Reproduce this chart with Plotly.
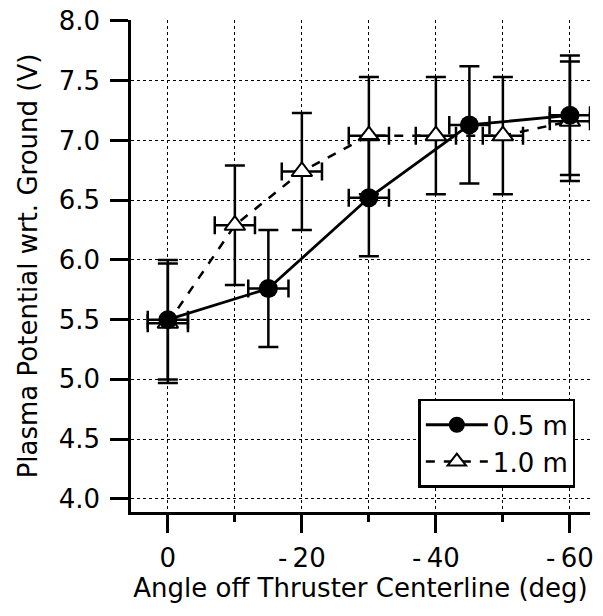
import plotly.graph_objects as go

# Data
angle_05 = [0, -15, -30, -45, -60]
pot_05 = [5.50, 5.76, 6.52, 7.13, 7.21]
pot_05_err = [0.50, 0.49, 0.49, 0.49, 0.50]
angle_05_err = [3, 3, 3, 3, 3]

angle_10 = [0, -10, -20, -30, -40, -50, -60]
pot_10 = [5.47, 6.29, 6.74, 7.04, 7.04, 7.04, 7.16]
pot_10_err = [0.50, 0.50, 0.49, 0.49, 0.49, 0.49, 0.50]
angle_10_err = [3, 3, 3, 3, 3, 3, 3]

x_tickvals = [0, -20, -40, -60]
x_ticktext = ["0", "-\u200920", "-\u200940", "-\u200960"]
y_tickvals = [4.0, 4.5, 5.0, 5.5, 6.0, 6.5, 7.0, 7.5, 8.0]

FONT = "DejaVu Sans, Liberation Sans, Arial, sans-serif"

fig = go.Figure()

fig.add_trace(go.Scatter(
    x=angle_10, y=pot_10, name="1.0 m", mode="lines+markers",
    line=dict(color="black", width=2.5, dash="dash"),
    marker=dict(symbol="triangle-up", size=18, color="white",
                line=dict(color="black", width=2)),
    error_y=dict(type="data", array=pot_10_err, color="black", thickness=2.5, width=10),
    error_x=dict(type="data", array=angle_10_err, color="black", thickness=2.5, width=9),
    legendrank=2,
))

fig.add_trace(go.Scatter(
    x=angle_05, y=pot_05, name="0.5 m", mode="lines+markers",
    line=dict(color="black", width=2.8),
    marker=dict(symbol="circle", size=19, color="black"),
    error_y=dict(type="data", array=pot_05_err, color="black", thickness=2.5, width=10),
    error_x=dict(type="data", array=angle_05_err, color="black", thickness=2.5, width=9),
    legendrank=1,
))

fig.update_layout(
    width=603, height=616,
    margin=dict(l=131, r=13, t=20, b=104),
    paper_bgcolor="white", plot_bgcolor="white",
    font=dict(family=FONT, size=26, color="black"),
    showlegend=True,
    legend=dict(
        x=0.626, y=0.23, xanchor="left", yanchor="top",
        bordercolor="black", borderwidth=2.5, bgcolor="white",
        font=dict(size=26), tracegroupgap=0, itemwidth=62,
    ),
    xaxis=dict(
        range=[5.5, -63], automargin=False,
        tickvals=x_tickvals, ticktext=x_ticktext,
        ticks="outside", ticklen=18, tickwidth=2.5, tickcolor="black",
        ticklabelstandoff=3, ticklabeloverflow="allow",
        showline=True, linecolor="black", linewidth=2.5,
        showgrid=True, gridcolor="black", gridwidth=1, griddash="dot",
        zeroline=False,
        minor=dict(dtick=10, tick0=0, ticks="outside", ticklen=7, tickwidth=2.5,
                   tickcolor="black", showgrid=True, gridcolor="black",
                   gridwidth=1, griddash="dot"),
        title=dict(text="Angle off Thruster Centerline (deg)", font=dict(size=26), standoff=6),
        tickfont=dict(size=26),
    ),
    yaxis=dict(
        range=[3.89, 8.008], automargin=False,
        tickvals=y_tickvals, tickformat=".1f",
        ticks="outside", ticklen=18, tickwidth=2.5, tickcolor="black",
        ticklabelstandoff=5, ticklabeloverflow="allow",
        showline=True, linecolor="black", linewidth=2.5,
        showgrid=True, gridcolor="black", gridwidth=1, griddash="dot",
        zeroline=False,
        title=dict(text="Plasma Potential wrt. Ground (V)", font=dict(size=26), standoff=14),
        tickfont=dict(size=26),
    ),
)

fig.write_html("out.html", config={"displayModeBar": False},
               post_script="document.body.style.margin='0';")
